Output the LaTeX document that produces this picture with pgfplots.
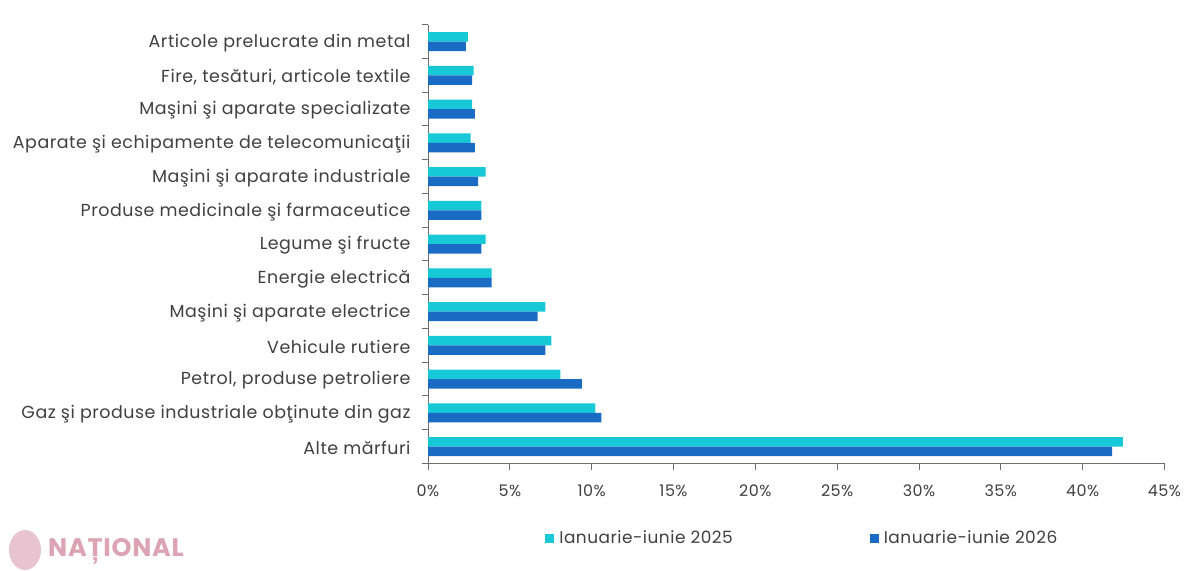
\documentclass[border=0pt]{standalone}
\usepackage{fontspec}
\setmainfont{Poppins}[LetterSpace=3]
\usepackage{pgfplots}
\pgfplotsset{compat=1.18}
\definecolor{cyanbar}{HTML}{17C8D6}
\definecolor{bluebar}{HTML}{1A6BC4}
\definecolor{txt}{HTML}{404040}
\definecolor{axisgray}{HTML}{6E6E6E}
\definecolor{wm}{HTML}{DCA3B4}
\definecolor{wmlogo}{HTML}{E8C4D0}
\begin{document}
\begin{tikzpicture}[x=1bp,y=1bp]
\path[use as bounding box] (0,0) rectangle (1200,-571);
\begin{axis}[
  at={(428bp,-463.5bp)}, anchor=south west,
  scale only axis, width=736.5bp, height=438.8bp,
  xbar, bar width=9.5bp,
  xmin=0, xmax=45, ymin=-0.5, ymax=12.5,
  axis lines*=left,
  axis line style={axisgray, line width=1bp},
  xtick={0,5,...,45},
  xticklabel={\pgfmathprintnumber{\tick}\%},
  ytick={0,...,12},
  yticklabels={Alte mărfuri,
    Gaz şi produse industriale obţinute din gaz,
    {Petrol, produse petroliere\hspace{0.3em}},
    Vehicule rutiere,
    Maşini şi aparate electrice\hspace{0.3em},
    Energie electrică,
    Legume şi fructe,
    Produse medicinale şi farmaceutice,
    Maşini şi aparate industriale\hspace{0.3em},
    Aparate şi echipamente de telecomunicaţii\hspace{0.3em},
    Maşini şi aparate specializate\hspace{0.3em},
    {Fire, tesături, articole textile\hspace{0.3em}},
    Articole prelucrate din metal},
  minor ytick={-0.5,0.5,...,12.5},
  tick align=outside,
  major tick length=6bp,
  minor tick length=6bp,
  major y tick style={draw=none},
  minor y tick style={draw=axisgray, line width=1bp},
  major x tick style={draw=axisgray, line width=1bp},
  /pgf/number format/assume math mode=true,
  xticklabel style={font=\fontsize{16}{19}\selectfont, text=txt, yshift=-12bp},
  yticklabel style={font=\fontsize{17.5}{20}\selectfont, text=txt, xshift=-8bp, yshift=-1.5bp},
  legend columns=2,
  legend style={at={(rel axis cs:0.155,-0.17)}, anchor=west, draw=none,
    font=\fontsize{17}{20}\selectfont, text=txt,
    /tikz/every even column/.append style={column sep=135bp}},
  legend image code/.code={\fill[#1] (0bp,-4.5bp) rectangle (9bp,4.5bp);
    \path (0bp,0bp) -- (12bp,0bp);},
]
\addplot[fill=cyanbar, draw=none, bar shift=4.75bp] coordinates {
  (42.45,0) (10.22,1) (8.09,2) (7.54,3) (7.17,4) (3.89,5) (3.52,6)
  (3.26,7) (3.52,8) (2.60,9) (2.69,10) (2.79,11) (2.43,12)};
\addlegendentry{Ianuarie-iunie 2025}
\addplot[fill=bluebar, draw=none, bar shift=-4.75bp] coordinates {
  (41.80,0) (10.59,1) (9.40,2) (7.17,3) (6.70,4) (3.89,5) (3.26,6)
  (3.26,7) (3.06,8) (2.87,9) (2.87,10) (2.69,11) (2.32,12)};
\addlegendentry{Ianuarie-iunie 2026}
\end{axis}
\fill[wmlogo] (25,-550) ellipse (16bp and 20bp);
\node[anchor=west, text=wm, font=\fontsize{25.5}{29}\selectfont\bfseries, inner sep=0pt] at (48,-551) {NAȚIONAL};
\end{tikzpicture}
\end{document}
